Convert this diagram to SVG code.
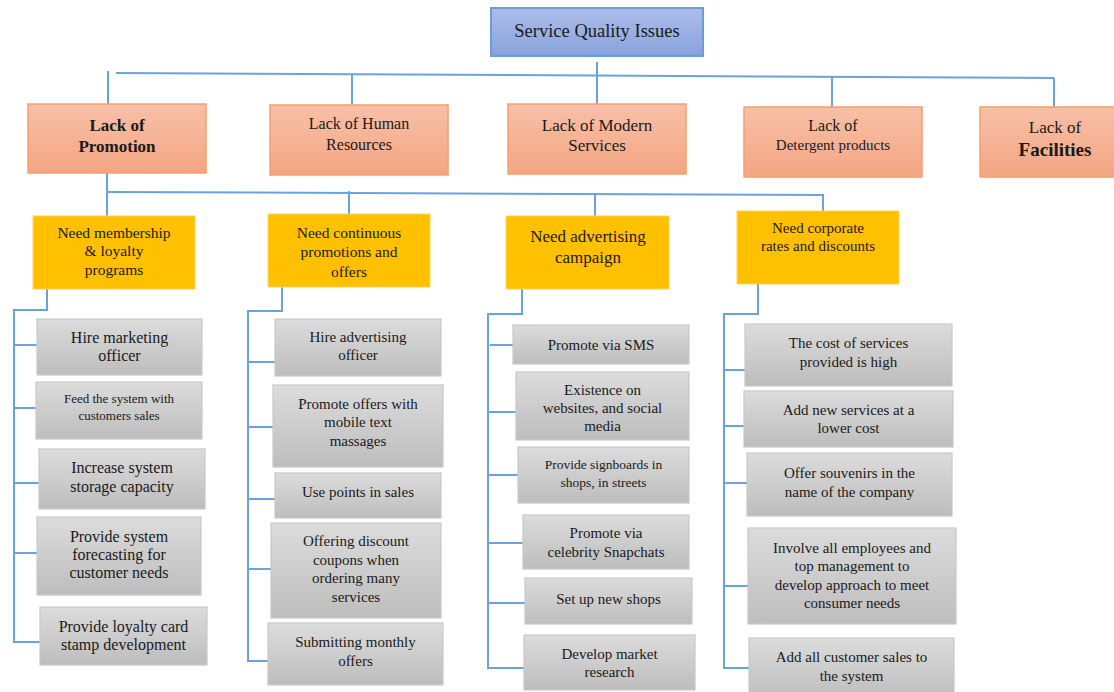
<svg xmlns="http://www.w3.org/2000/svg" width="1114" height="692" viewBox="0 0 1114 692">
<defs>
<linearGradient id="gBlue" x1="0" y1="0" x2="0" y2="1"><stop offset="0" stop-color="#aebde9"/><stop offset="1" stop-color="#87a3dc"/></linearGradient>
<linearGradient id="gSal" x1="0" y1="0" x2="0" y2="1"><stop offset="0" stop-color="#f8c0a8"/><stop offset="1" stop-color="#f4a582"/></linearGradient>
<linearGradient id="gGray" x1="0" y1="0" x2="0" y2="1"><stop offset="0" stop-color="#dcdcdc"/><stop offset="1" stop-color="#bdbdbd"/></linearGradient>
</defs>
<style>
text{font-family:'Liberation Serif','DejaVu Serif',serif;fill:#1a1a1a;text-anchor:middle;font-size:16px}
.top{fill:url(#gBlue);stroke:#6b9bd8;stroke-width:2}
.sal{fill:url(#gSal);stroke:#f3a06f;stroke-width:1.5}
.yel{fill:#ffc000;stroke:#ffd35a;stroke-width:1}
.gray{fill:url(#gGray);stroke:#c9c9c9;stroke-width:1.2}
.c path,.c line{stroke:#6aa3dc;stroke-width:2;fill:none}
.b{font-weight:bold}
</style>
<g class="c" id="connectors">
<line x1="597" y1="62" x2="597" y2="105"/>
<line x1="116" y1="73" x2="1054" y2="78"/>
<line x1="108" y1="71" x2="108" y2="105"/>
<line x1="352" y1="75" x2="352" y2="106"/>
<line x1="832" y1="77" x2="832" y2="107"/>
<path d="M1054,78 V108"/>
<line x1="107" y1="173" x2="107" y2="217"/>
<line x1="107" y1="192" x2="824" y2="195"/>
<line x1="349" y1="191" x2="349" y2="214"/>
<line x1="595" y1="193" x2="595" y2="217"/>
<line x1="823" y1="195" x2="823" y2="211"/>
<path d="M47,289 V310 H14 V642 H40 M14,345 H37 M14,408 H36 M14,483 H39 M14,553 H37"/>
<path d="M282,287 V311 H248 V661 H268 M248,362 H275 M248,427 H273 M248,499 H275 M248,569 H271"/>
<path d="M522,289 V314 H488 V668 H524 M490,345 H513 M488,412 H516 M488,475 H518 M488,543 H523 M488,603 H525"/>
<path d="M758,284 V314 H724 V668 H749 M724,370 H745 M724,426 H744 M724,483 H747 M724,586 H748"/>
</g>
<g id="n-root"><rect class="top" x="491" y="8" width="212" height="48"/><text x="597" y="37" style="font-size:18.5px">Service Quality Issues</text></g>
<g id="n-promo"><rect class="sal" x="28" y="104" width="178" height="69"/><text class="b" x="117" y="131" style="font-size:17px">Lack of</text><text class="b" x="117" y="152" style="font-size:17px">Promotion</text></g>
<g id="n-human"><rect class="sal" x="270" y="105" width="178" height="70"/><text x="359" y="129">Lack of Human</text><text x="359" y="150">Resources</text></g>
<g id="n-modern"><rect class="sal" x="508" y="104" width="178" height="70"/><text x="597" y="131" style="font-size:17px">Lack of Modern</text><text x="597" y="151" style="font-size:17px">Services</text></g>
<g id="n-deterg"><rect class="sal" x="744" y="107" width="178" height="70"/><text x="833" y="131">Lack of</text><text x="833" y="150" style="font-size:15px">Detergent products</text></g>
<g id="n-facil"><rect class="sal" x="980" y="107" width="140" height="70"/><text x="1055" y="133" style="font-size:17px">Lack of</text><text class="b" x="1055" y="156" style="font-size:19px">Facilities</text></g>
<g id="n-member"><rect class="yel" x="33" y="216" width="162" height="73"/><text x="114" y="238" style="font-size:15.5px">Need membership</text><text x="114" y="256" style="font-size:15.5px">&amp; loyalty</text><text x="114" y="275" style="font-size:15.5px">programs</text></g>
<g id="n-contin"><rect class="yel" x="268" y="214" width="162" height="73"/><text x="349" y="238" style="font-size:15.5px">Need continuous</text><text x="349" y="257" style="font-size:15.5px">promotions and</text><text x="349" y="277" style="font-size:15.5px">offers</text></g>
<g id="n-advert"><rect class="yel" x="506" y="216" width="163" height="73"/><text x="588" y="242" style="font-size:17px">Need advertising</text><text x="588" y="263" style="font-size:17px">campaign</text></g>
<g id="n-corp"><rect class="yel" x="737" y="211" width="162" height="73"/><text x="818" y="233" style="font-size:15px">Need corporate</text><text x="818" y="251" style="font-size:15px">rates and discounts</text></g>
<g id="n-a1"><rect class="gray" x="37" y="319" width="165" height="56"/><text x="119.5" y="343">Hire marketing</text><text x="119.5" y="361">officer</text></g>
<g id="n-a2"><rect class="gray" x="36" y="382" width="166" height="57"/><text x="119" y="403" style="font-size:13px">Feed the system with</text><text x="119" y="420" style="font-size:13px">customers sales</text></g>
<g id="n-a3"><rect class="gray" x="39" y="449" width="166" height="60"/><text x="122" y="473">Increase system</text><text x="122" y="492">storage capacity</text></g>
<g id="n-a4"><rect class="gray" x="37" y="517" width="164" height="78"/><text x="119" y="542">Provide system</text><text x="119" y="560">forecasting for</text><text x="119" y="578">customer needs</text></g>
<g id="n-a5"><rect class="gray" x="40" y="607" width="167" height="58"/><text x="123.5" y="632">Provide loyalty card</text><text x="123.5" y="650">stamp development</text></g>
<g id="n-b1"><rect class="gray" x="275" y="319" width="166" height="57"/><text x="358" y="342" style="font-size:15px">Hire advertising</text><text x="358" y="360" style="font-size:15px">officer</text></g>
<g id="n-b2"><rect class="gray" x="273" y="385" width="170" height="82"/><text x="358" y="409" style="font-size:15px">Promote offers with</text><text x="358" y="427" style="font-size:15px">mobile text</text><text x="358" y="446" style="font-size:15px">massages</text></g>
<g id="n-b3"><rect class="gray" x="275" y="473" width="166" height="45"/><text x="358" y="497" style="font-size:15px">Use points in sales</text></g>
<g id="n-b4"><rect class="gray" x="271" y="523" width="170" height="95"/><text x="356" y="546" style="font-size:15px">Offering discount</text><text x="356" y="565" style="font-size:15px">coupons when</text><text x="356" y="583" style="font-size:15px">ordering many</text><text x="356" y="602" style="font-size:15px">services</text></g>
<g id="n-b5"><rect class="gray" x="268" y="623" width="175" height="62"/><text x="355.5" y="647" style="font-size:15px">Submitting monthly</text><text x="355.5" y="666" style="font-size:15px">offers</text></g>
<g id="n-c1"><rect class="gray" x="513" y="325" width="176" height="39"/><text x="601" y="350" style="font-size:15px">Promote via SMS</text></g>
<g id="n-c2"><rect class="gray" x="516" y="372" width="173" height="68"/><text x="602.5" y="395" style="font-size:15px">Existence on</text><text x="602.5" y="413" style="font-size:15px">websites, and social</text><text x="602.5" y="431" style="font-size:15px">media</text></g>
<g id="n-c3"><rect class="gray" x="518" y="447" width="171" height="56"/><text x="603.5" y="469" style="font-size:13.5px">Provide signboards in</text><text x="603.5" y="487" style="font-size:13.5px">shops, in streets</text></g>
<g id="n-c4"><rect class="gray" x="523" y="515" width="166" height="54"/><text x="606" y="538" style="font-size:15px">Promote via</text><text x="606" y="557" style="font-size:15px">celebrity Snapchats</text></g>
<g id="n-c5"><rect class="gray" x="525" y="578" width="167" height="46"/><text x="608.5" y="604" style="font-size:15px">Set up new shops</text></g>
<g id="n-c6"><rect class="gray" x="524" y="635" width="171" height="55"/><text x="609.5" y="659" style="font-size:15px">Develop market</text><text x="609.5" y="677" style="font-size:15px">research</text></g>
<g id="n-d1"><rect class="gray" x="745" y="324" width="207" height="62"/><text x="848.5" y="348" style="font-size:15px">The cost of services</text><text x="848.5" y="367" style="font-size:15px">provided is high</text></g>
<g id="n-d2"><rect class="gray" x="744" y="391" width="209" height="56"/><text x="848.5" y="415" style="font-size:15px">Add new services at a</text><text x="848.5" y="433" style="font-size:15px">lower cost</text></g>
<g id="n-d3"><rect class="gray" x="747" y="453" width="205" height="63"/><text x="849.5" y="478" style="font-size:15px">Offer souvenirs in the</text><text x="849.5" y="497" style="font-size:15px">name of the company</text></g>
<g id="n-d4"><rect class="gray" x="748" y="528" width="208" height="96"/><text x="852" y="553" style="font-size:15px">Involve all employees and</text><text x="852" y="571" style="font-size:15px">top management to</text><text x="852" y="590" style="font-size:15px">develop approach to meet</text><text x="852" y="608" style="font-size:15px">consumer needs</text></g>
<g id="n-d5"><rect class="gray" x="749" y="638" width="205" height="62"/><text x="851.5" y="662" style="font-size:15px">Add all customer sales to</text><text x="851.5" y="681" style="font-size:15px">the system</text></g>
</svg>
